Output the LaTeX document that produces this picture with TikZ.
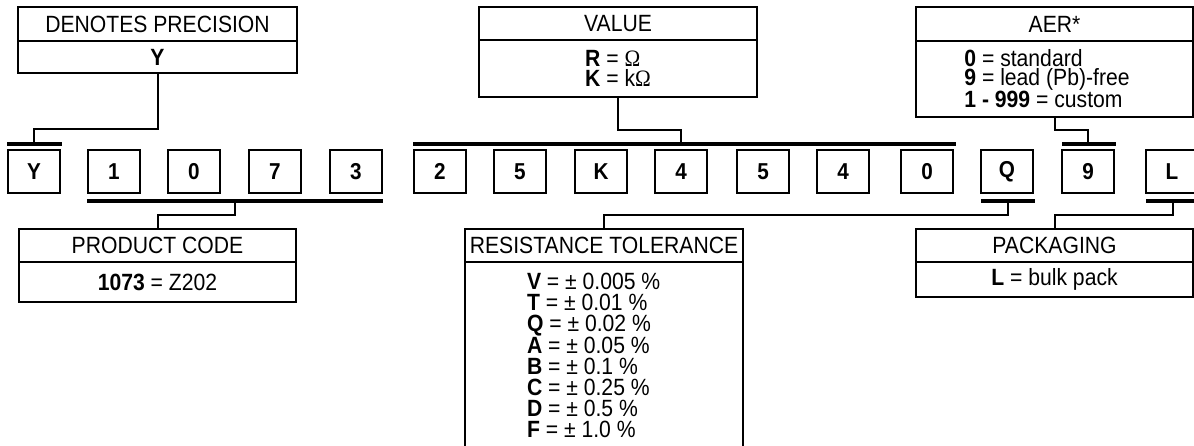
\documentclass[tikz,border=0pt]{standalone}
\usepackage{fontspec}
\setmainfont{Liberation Sans}[FakeStretch=0.9]
\newfontfamily\omegafont{Liberation Serif}[FakeStretch=0.9]
\newcommand{\fs}{\fontsize{23.5}{23.5}\selectfont}
\newcommand{\om}{{\omegafont\symbol{"03A9}}}
\begin{document}
\begin{tikzpicture}[x=1pt,y=-1pt,
  frame/.style={draw, line width=2pt, inner sep=0pt, outer sep=0pt, font=\fs},
  cbox/.style={draw, line width=2pt, inner sep=0pt, outer sep=0pt,
    minimum width=52pt, minimum height=43pt, font=\fontsize{23}{23}\selectfont\bfseries},
  bar/.style={fill=black, inner sep=0pt, outer sep=0pt, minimum height=3.5pt},
  conn/.style={line width=2pt},
  txt/.style={inner sep=0pt, outer sep=0pt, align=left}]
\useasboundingbox (0,0) rectangle (1194,445);

% character boxes
\foreach \x/\c/\n in {34/Y/c1,114/1/c2,194/0/c3,275/7/c4,356/3/c5,440/2/c6,520/5/c7,601/K/c8,681/4/c9,763/5/c10,843/4/c11,927/0/c12,1007/Q/c13,1088/9/c14,1172/L/c15}
  \node[cbox] (\n) at (\x,171.5) {\c};

% bars
\node[bar, minimum width=55pt]  (ybar)   at (34.5,144) {};
\node[bar, minimum width=296pt] (pcbar)  at (235,201) {};
\node[bar, minimum width=543pt] (valbar) at (684.5,144) {};
\node[bar, minimum width=54pt]  (qbar)   at (1008,201) {};
\node[bar, minimum width=54pt]  (nbar)   at (1089,144) {};
\node[bar, minimum width=54pt]  (lbar)   at (1173,201) {};

% DENOTES PRECISION
\node[frame, minimum width=279pt, minimum height=34pt, anchor=north west] (dph) at (18,7) {DENOTES PRECISION};
\node[frame, minimum width=279pt, minimum height=32pt, anchor=north] (dpb) at (dph.south) {\textbf{Y}};

% VALUE
\node[frame, minimum width=278pt, minimum height=33pt, anchor=north west] (vh) at (479,7) {VALUE};
\node[frame, minimum width=278pt, minimum height=57pt, anchor=north, font=\fontsize{23.5}{19.5}\selectfont, align=left] (vb) at (vh.south)
  {\textbf{R} = \om\\ \textbf{K} = k\om};

% AER
\node[frame, minimum width=277pt, minimum height=76pt, anchor=north west] (ab) at (916,41) {};
\node[frame, minimum width=277pt, minimum height=34pt, anchor=south] (ah) at (ab.north) {AER*};
\node[txt, font=\fontsize{23.5}{19.5}\selectfont] (abt) at (1047,78.5)
  {\textbf{0} = standard\\ \textbf{9} = lead (Pb)-free\\ \textbf{1 - 999} = custom};

% PRODUCT CODE
\node[frame, minimum width=277pt, minimum height=33pt, anchor=north west] (pch) at (19,229) {PRODUCT CODE};
\node[frame, minimum width=277pt, minimum height=40pt, anchor=north] (pcb) at (pch.south) {\textbf{1073} = Z202};

% RESISTANCE TOLERANCE
\node[frame, minimum width=278pt, minimum height=33pt, anchor=north west] (rth) at (465,229) {RESISTANCE TOLERANCE};
\draw[line width=2pt] (rth.south west) -- ++(0,190);
\draw[line width=2pt] (rth.south east) -- ++(0,190);
\node[txt, font=\fontsize{23.5}{21.2}\selectfont, anchor=north west] (rtb) at (527,273)
  {\textbf{V} = ± 0.005 \%\\ \textbf{T} = ± 0.01 \%\\ \textbf{Q} = ± 0.02 \%\\ \textbf{A} = ± 0.05 \%\\
   \textbf{B} = ± 0.1 \%\\ \textbf{C} = ± 0.25 \%\\ \textbf{D} = ± 0.5 \%\\ \textbf{F} = ± 1.0 \%};

% PACKAGING
\node[frame, minimum width=277pt, minimum height=33pt, anchor=north west] (pkh) at (916,229) {PACKAGING};
\node[frame, minimum width=277pt, minimum height=35pt, anchor=north] (pkb) at (pkh.south) {\textbf{L} = bulk pack};

% connectors
\draw[conn] (dpb.south) -- ++(0,56) -| (c1 |- ybar.north);
\draw[conn] (pcbar.south) -- ++(0,12.5) -| (pch.north);
\draw[conn] (vb.south) -- ++(0,33) -| (c9 |- valbar.north);
\draw[conn] (ab.south) -- ++(0,13) -| (c14 |- nbar.north);
\draw[conn] (qbar.south) -- ++(0,12.5) -| (rth.north);
\draw[conn] (lbar.south) -- ++(0,12.5) -| (pkh.north);
\end{tikzpicture}
\end{document}
